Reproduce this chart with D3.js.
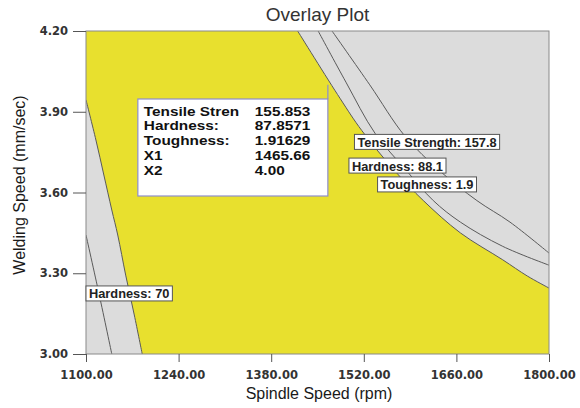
<!DOCTYPE html>
<html><head><meta charset="utf-8">
<script src="https://cdn.jsdelivr.net/npm/d3@7"></script>
<style>body{margin:0;background:#fff}svg{display:block}</style>
</head><body>
<svg id="chart" width="580" height="408"></svg>
<script>
// Overlay plot: Spindle Speed (rpm) vs Welding Speed (mm/sec)
const xTicks = [1100, 1240, 1380, 1520, 1660, 1800];
const yTicks = [3.00, 3.30, 3.60, 3.90, 4.20];

// Contour: Tensile Strength = 157.8 (upper/right edge of the feasible region)
const tensileX = [1420, 1484, 1517, 1567, 1610, 1666, 1730, 1767, 1800];
const tensileY = [4.20, 3.95, 3.83, 3.68, 3.57, 3.45, 3.35, 3.29, 3.245];
// Contour: Hardness = 88.1
const hard881X = [1451, 1493, 1537, 1585, 1625, 1666, 1730, 1800];
const hard881Y = [4.20, 4.01, 3.82, 3.68, 3.57, 3.49, 3.40, 3.33];
// Contour: Toughness = 1.9
const toughX = [1472, 1529, 1582, 1635, 1691, 1741, 1800];
const toughY = [4.20, 4.00, 3.81, 3.68, 3.57, 3.49, 3.375];
// Left edge of the feasible region
const leftEdgeX = [1100, 1115, 1127, 1139, 1148, 1160, 1173, 1185];
const leftEdgeY = [3.944, 3.795, 3.665, 3.535, 3.442, 3.293, 3.145, 3.00];
// Contour: Hardness = 70
const hard70X = [1100, 1120, 1139];
const hard70Y = [3.442, 3.22, 3.00];

// Contour labels
const contourLabels = ["Tensile Strength: 157.8", "Hardness: 88.1", "Toughness: 1.9", "Hardness: 70"];

// Flag at the selected point
const flagNames = ["Tensile Stren", "Hardness:", "Toughness:", "X1", "X2"];
const flagValues = ["155.853", "87.8571", "1.91629", "1465.66", "4.00"];
const flagX1 = 1465.66, flagX2 = 4.00;

const svg = d3.select("#chart");
const pLeft = 86, pRight = 549, pTop = 31, pBottom = 354;
const x = d3.scaleLinear().domain([1100, 1800]).range([pLeft, pRight]);
const y = d3.scaleLinear().domain([3.0, 4.2]).range([pBottom, pTop]);

const zip = (xs, ys) => xs.map((v, i) => [v, ys[i]]);
const line = d3.line().x(d => x(d[0])).y(d => y(d[1])).curve(d3.curveCatmullRom);

svg.append("defs").append("clipPath").attr("id", "plotClip")
  .append("rect").attr("x", pLeft).attr("y", pTop).attr("width", pRight - pLeft).attr("height", pBottom - pTop);

const plot = svg.append("g").attr("clip-path", "url(#plotClip)");

// feasible region background
plot.append("rect").attr("x", pLeft).attr("y", pTop)
  .attr("width", pRight - pLeft).attr("height", pBottom - pTop).attr("fill", "#e8e02e");

// right infeasible region
const rightPts = zip(tensileX, tensileY);
plot.append("path")
  .attr("d", line(rightPts) + `L${x(1800)},${y(4.2)}L${x(tensileX[0])},${y(4.2)}Z`)
  .attr("fill", "#dcdcdc");

// left infeasible region
const leftPts = zip(leftEdgeX, leftEdgeY);
plot.append("path")
  .attr("d", line(leftPts) + `L${x(1100)},${y(3.0)}Z`)
  .attr("fill", "#dcdcdc");

// contour lines
[zip(tensileX, tensileY), zip(hard881X, hard881Y), zip(toughX, toughY),
 zip(leftEdgeX, leftEdgeY), zip(hard70X, hard70Y)].forEach(pts => {
  plot.append("path").attr("d", line(pts)).attr("fill", "none")
    .attr("stroke", "#5a5a5a").attr("stroke-width", 1);
});

// plot frame
svg.append("rect").attr("x", pLeft).attr("y", pTop)
  .attr("width", pRight - pLeft).attr("height", pBottom - pTop)
  .attr("fill", "none").attr("stroke", "#8a8a8a").attr("stroke-width", 1);

// axes
const tickFont = "'DejaVu Sans', Verdana, sans-serif";
const xAxis = svg.append("g").attr("transform", `translate(0,${pBottom})`)
  .call(d3.axisBottom(x).tickValues(xTicks).tickFormat(d3.format(".2f")).tickSize(8).tickPadding(9));
const yAxis = svg.append("g").attr("transform", `translate(${pLeft},0)`)
  .call(d3.axisLeft(y).tickValues(yTicks).tickFormat(d3.format(".2f")).tickSize(13).tickPadding(5));
[xAxis, yAxis].forEach(g => {
  g.select(".domain").remove();
  g.selectAll(".tick line").attr("stroke", "#555");
  g.selectAll(".tick text").attr("fill", "#333").attr("font-family", tickFont)
    .attr("font-weight", "bold").attr("font-size", "11.5px");
});

// titles
svg.append("text").attr("x", (pLeft + pRight) / 2).attr("y", 21)
  .attr("text-anchor", "middle").attr("font-family", "'Liberation Sans', Arial, sans-serif")
  .attr("font-size", "19px").attr("fill", "#333").text("Overlay Plot");
svg.append("text").attr("x", 319).attr("y", 399)
  .attr("text-anchor", "middle").attr("font-family", "'Liberation Sans', Arial, sans-serif")
  .attr("font-size", "16px").attr("fill", "#1a1a1a").text("Spindle Speed (rpm)");
svg.append("text").attr("transform", "translate(25,185) rotate(-90)")
  .attr("text-anchor", "middle").attr("font-family", "'Liberation Sans', Arial, sans-serif")
  .attr("font-size", "16px").attr("fill", "#1a1a1a").text("Welding Speed (mm/sec)");

// contour labels in white boxes
function tag(text, cx, cy, anchorLeft) {
  const g = svg.append("g");
  const t = g.append("text").attr("font-family", "'Liberation Sans', Arial, sans-serif")
    .attr("font-weight", "bold").attr("font-size", "12.8px").attr("fill", "#222")
    .attr("dominant-baseline", "central").text(text);
  const w = t.node().getComputedTextLength() + 6, h = 15;
  const bx = anchorLeft ? cx : cx - w / 2;
  t.attr("x", bx + 3).attr("y", cy + 0.5);
  g.insert("rect", "text").attr("x", bx).attr("y", cy - h / 2).attr("width", w).attr("height", h)
    .attr("fill", "#fff").attr("stroke", "#555").attr("stroke-width", 1);
}
tag(contourLabels[0], x(1615.6), y(3.788), false);
tag(contourLabels[1], x(1570.9), y(3.700), false);
tag(contourLabels[2], x(1615.6), y(3.630), false);
tag(contourLabels[3], x(1100), y(3.225), true);

// flag with pole
const fx = x(flagX1), fy = y(flagX2);
const boxW = 190, boxTop = 99, boxH = 97;
svg.append("line").attr("x1", fx).attr("x2", fx).attr("y1", fy).attr("y2", boxTop)
  .attr("stroke", "#8e8ecc").attr("stroke-width", 1.2);
svg.append("rect").attr("x", fx - boxW).attr("y", boxTop).attr("width", boxW).attr("height", boxH)
  .attr("fill", "#fff").attr("stroke", "#8e8ecc").attr("stroke-width", 1.2);
const flagG = svg.append("g").attr("font-family", "'Liberation Sans', Arial, sans-serif")
  .attr("font-weight", "bold").attr("font-size", "13px").attr("fill", "#111");
// wide glyphs: stretch each line horizontally
const stretch = 1.18;
function wideText(str, tx, ty) {
  const t = flagG.append("text").attr("x", tx).attr("y", ty).text(str);
  const w = t.node().getComputedTextLength() * stretch;
  t.attr("textLength", w).attr("lengthAdjust", "spacingAndGlyphs");
  return w;
}
flagNames.forEach((n, i) => {
  const by = 115.5 + i * 14.8;
  const lx = fx - boxW + 6;
  const w = wideText(n, lx, by);
  wideText(flagValues[i], Math.max(fx - 73, lx + w + 5), by);
});
</script>
</body></html>
